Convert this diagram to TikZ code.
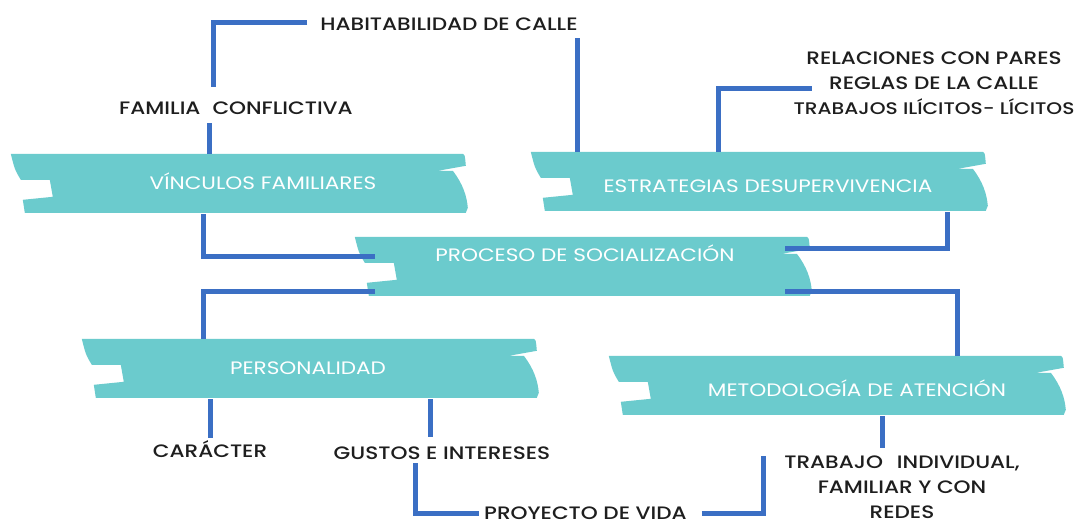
\documentclass[tikz,border=0pt]{standalone}
\usepackage{fontspec}
\setmainfont{Poppins}[FakeStretch=1.2]
\newfontfamily\leafFont{Poppins Medium}[FakeStretch=1.2]
\usepackage{xcolor}
\definecolor{tealBand}{HTML}{6BCBCD}
\definecolor{blueLink}{HTML}{3B6FC4}
\definecolor{inkText}{HTML}{1E1E1E}
\usetikzlibrary{positioning,calc}

\begin{document}
\begin{tikzpicture}[x=1pt,y=-1pt,
 ribbon/.pic={\fill[tealBand]
 (0,0) -- (450,0) .. controls (454,0) .. (455,12) -- (427,17) -- (442,17)
 .. controls (452,30) and (456,42) .. (457,54) -- (455,59) -- (441,59)
 -- (14,59) -- (12,46) -- (42,43) -- (39,26) -- (10,26)
 .. controls (4,16) .. cycle;},
 bandBox/.style={minimum width=457pt,minimum height=60pt,inner sep=0pt},
 bannerText/.style={anchor=base,text=white,font=\fontsize{18}{20}\selectfont},
 leafText/.style={anchor=base,text=inkText,inner sep=0pt,text height=12pt,
 text depth=0pt,font=\leafFont\fontsize{18}{20}\selectfont},
 leafBlock/.style={anchor=north,align=center,text=inkText,inner sep=0pt,
 font=\leafFont\fontsize{18}{25}\selectfont},
 link/.style={draw=blueLink,line width=5pt}]
 \fill[white] (0,0) rectangle (1078,524);
 \useasboundingbox (0,0) rectangle (1078,524);
 % ribbons
 \node[bandBox] (vinc) at (239.5,184) {};
 \node[bandBox] (estr) at (759.5,182) {};
 \node[bandBox] (proc) at (583.5,267) {};
 \node[bandBox] (pers) at (310.5,369) {};
 \node[bandBox] (meto) at (837.5,386) {};
 \foreach \band in {vinc,estr,proc,pers,meto}
 \pic at (\band.north west) {ribbon};
 \node[bannerText] (vincT) at (263,189) {VÍNCULOS FAMILIARES};
 \node[bannerText] (estrT) at (768,192) {ESTRATEGIAS DESUPERVIVENCIA};
 \node[bannerText] (procT) at (585,261) {PROCESO DE SOCIALIZACIÓN};
 \node[bannerText] (persT) at (308,374) {PERSONALIDAD};
 \node[bannerText] (metoT) at (857,396) {METODOLOGÍA DE ATENCIÓN};
 % leaves
 \node[leafText] (habit) at (449,31) {HABITABILIDAD DE CALLE};
 \node[leafText] (famil) at (236,115) {FAMILIA\hspace{12pt}CONFLICTIVA};
 \node[leafBlock] (rel) at (934,52) {RELACIONES CON PARES\\REGLAS DE LA CALLE\\
 {\fontsize{16.8}{25}\selectfont TRABAJOS ILÍCITOS- LÍCITOS}};
 \node[leafText] (carac) at (210,457) {CARÁCTER};
 \node[leafText] (gustos) at (442,459) {GUSTOS E INTERESES};
 \node[leafText] (proy) at (585.5,519) {PROYECTO DE VIDA};
 \node[leafBlock] (trab) at (902,456) {TRABAJO\hspace{14pt}INDIVIDUAL,\\FAMILIAR Y CON\\REDES};
 % links
 \draw[link] ([xshift=-13pt,yshift=2pt]habit.west) -| ([xshift=-23pt,yshift=16pt]famil.north);
 \draw[link,shorten >=8pt] ([xshift=-30.5pt]vinc.north) -- ([xshift=-30.5pt]vinc.north |- famil.south);
 \draw[link,shorten >=7pt] ([xshift=-182.5pt]estr.north) -- ([xshift=-182.5pt]estr.north |- habit.south);
 \draw[link] ([xshift=-41.5pt]estr.north) |- ([xshift=19pt,yshift=-4.5pt]rel.west);
 \draw[link] ([xshift=-36.5pt]vinc.south) |- ([xshift=20pt,yshift=11pt]proc.west);
 \draw[link] ([xshift=20pt,yshift=-24pt]proc.west) -| ([xshift=-107.5pt]pers.north);
 \draw[link] ([xshift=-27pt,yshift=19pt]proc.east) -| ([xshift=187.5pt]estr.south);
 \draw[link] ([xshift=-27pt,yshift=-24pt]proc.east) -| ([xshift=119.5pt]meto.north);
 \draw[link,shorten >=7pt] ([xshift=-100.5pt]pers.south) -- ([xshift=-100.5pt]pers.south |- carac.north);
 \draw[link,shorten >=10pt] ([xshift=119.5pt]pers.south) -- ([xshift=119.5pt]pers.south |- gustos.north);
 \draw[link] ([xshift=-27pt,yshift=-4pt]gustos.south) |- ([xshift=-5pt]proy.west);
 \draw[link] ([xshift=15pt]proy.east) -| ([xshift=-21pt]trab.north west);
 \draw[link,shorten >=8pt] ([xshift=44.5pt]meto.south) -- ([xshift=44.5pt]meto.south |- trab.north);
\end{tikzpicture}
\end{document}
